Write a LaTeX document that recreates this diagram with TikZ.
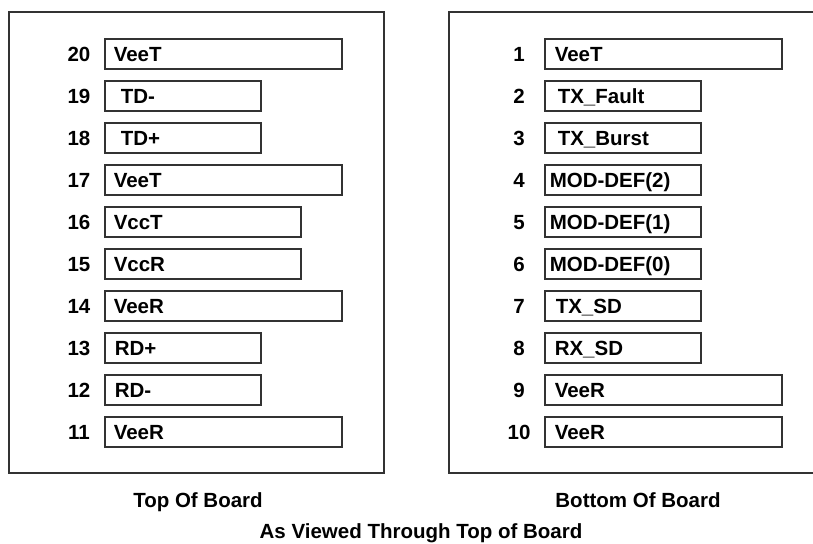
\documentclass[tikz,border=0pt]{standalone}
\usepackage{fontspec}
\setmainfont{Liberation Sans}
\definecolor{edge}{RGB}{50,50,50}

\begin{document}
\begin{tikzpicture}[x=1pt,y=-1pt,line width=1.5pt,
	bold/.style={font=\bfseries\fontsize{20.5}{24}\selectfont},
	pad/.style={draw=edge,minimum height=30pt,anchor=west,inner sep=0pt},
	txt/.style={bold,anchor=west,inner sep=0pt,text height=14.7pt,text depth=0pt},
	num/.style={bold,anchor=center,inner sep=0pt,text height=14.7pt,text depth=0pt,xshift=-25pt}]
			\useasboundingbox (0,0) rectangle (813,543);
			% boards
			\draw[edge] (9,12) rectangle (384,473);
			\draw[edge] (449,12) rectangle (817,473);
			% top of board, pins 20 to 11
			\node[pad,minimum width=237pt,label={[txt,xshift=9pt]west:VeeT},label={[num]west:20}] (p20) at (104,54) {};
			\node[pad,minimum width=156pt,label={[txt,xshift=16pt]west:TD-},label={[num]west:19}] (p19) at (104,96) {};
			\node[pad,minimum width=156pt,label={[txt,xshift=16pt]west:TD+},label={[num]west:18}] (p18) at (104,138) {};
			\node[pad,minimum width=237pt,label={[txt,xshift=9pt]west:VeeT},label={[num]west:17}] (p17) at (104,180) {};
			\node[pad,minimum width=196pt,label={[txt,xshift=9pt]west:VccT},label={[num]west:16}] (p16) at (104,222) {};
			\node[pad,minimum width=196pt,label={[txt,xshift=9pt]west:VccR},label={[num]west:15}] (p15) at (104,264) {};
			\node[pad,minimum width=237pt,label={[txt,xshift=9pt]west:VeeR},label={[num]west:14}] (p14) at (104,306) {};
			\node[pad,minimum width=156pt,label={[txt,xshift=10pt]west:RD+},label={[num]west:13}] (p13) at (104,348) {};
			\node[pad,minimum width=156pt,label={[txt,xshift=10pt]west:RD-},label={[num]west:12}] (p12) at (104,390) {};
			\node[pad,minimum width=237pt,label={[txt,xshift=9pt]west:VeeR},label={[num]west:11}] (p11) at (104,432) {};
			% bottom of board, pins 1 to 10
			\node[pad,minimum width=237pt,label={[txt,xshift=10pt]west:VeeT},label={[num]west:1}] (p1) at (544,54) {};
			\node[pad,minimum width=156pt,label={[txt,xshift=13pt]west:TX\_Fault},label={[num]west:2}] (p2) at (544,96) {};
			\node[pad,minimum width=156pt,label={[txt,xshift=13pt]west:TX\_Burst},label={[num]west:3}] (p3) at (544,138) {};
			\node[pad,minimum width=156pt,label={[txt,xshift=5pt]west:MOD-DEF(2)},label={[num]west:4}] (p4) at (544,180) {};
			\node[pad,minimum width=156pt,label={[txt,xshift=5pt]west:MOD-DEF(1)},label={[num]west:5}] (p5) at (544,222) {};
			\node[pad,minimum width=156pt,label={[txt,xshift=5pt]west:MOD-DEF(0)},label={[num]west:6}] (p6) at (544,264) {};
			\node[pad,minimum width=156pt,label={[txt,xshift=11pt]west:TX\_SD},label={[num]west:7}] (p7) at (544,306) {};
			\node[pad,minimum width=156pt,label={[txt,xshift=10pt]west:RX\_SD},label={[num]west:8}] (p8) at (544,348) {};
			\node[pad,minimum width=237pt,label={[txt,xshift=10pt]west:VeeR},label={[num]west:9}] (p9) at (544,390) {};
			\node[pad,minimum width=237pt,label={[txt,xshift=10pt]west:VeeR},label={[num]west:10}] (p10) at (544,432) {};
			% captions
			\node[txt,anchor=center] (top) at (198,500) {Top Of Board};
			\node[txt,anchor=center] (bottom) at (638,500) {Bottom Of Board};
			\node[txt,anchor=center] (view) at (421,531) {As Viewed Through Top of Board};
		\end{tikzpicture}
\end{document}
